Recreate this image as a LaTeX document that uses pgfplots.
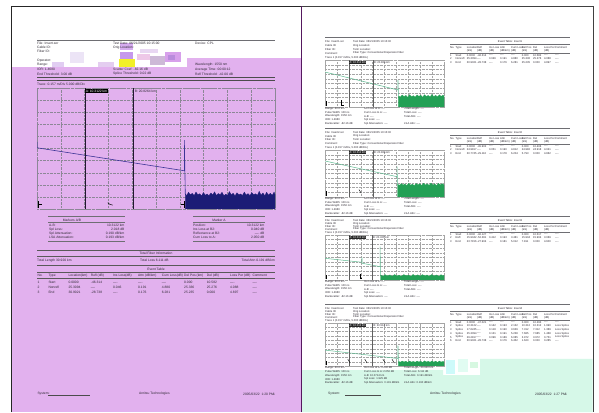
\documentclass[border=0pt]{standalone}
\usepackage{fontspec}
\setmainfont{Liberation Sans}
\usepackage{pgfplots}
\pgfplotsset{compat=1.18}

\definecolor{pagepurple}{RGB}{226,177,238}
\definecolor{pagemint}{RGB}{214,248,232}
\definecolor{plum}{RGB}{85,25,95}
\definecolor{navyfill}{RGB}{28,28,118}
\definecolor{navytrace}{RGB}{60,52,150}
\definecolor{markdark}{RGB}{35,20,50}
\definecolor{greentrace}{RGB}{95,185,145}
\definecolor{greenfill}{RGB}{35,160,85}
\definecolor{markgray}{RGB}{95,95,95}
\definecolor{txt}{RGB}{45,40,50}
\definecolor{rule}{RGB}{110,110,115}
\definecolor{gridl}{RGB}{140,135,150}
\definecolor{gridr}{RGB}{165,165,165}
\definecolor{gA}{RGB}{236,228,246}
\definecolor{gB}{RGB}{225,205,242}
\definecolor{gC}{RGB}{228,205,240}
\definecolor{gD}{RGB}{214,172,240}
\definecolor{gE}{RGB}{198,152,236}
\definecolor{gF}{RGB}{242,240,40}
\definecolor{gG}{RGB}{238,200,232}
\definecolor{gH}{RGB}{205,185,215}
\definecolor{gI}{RGB}{215,160,235}
\definecolor{gJ}{RGB}{185,140,220}
\definecolor{gK}{RGB}{232,215,242}
\definecolor{mA}{RGB}{205,250,250}
\definecolor{mB}{RGB}{225,252,242}
\definecolor{mC}{RGB}{215,248,225}

\newcommand{\lf}{\fontsize{3.3}{3.7}\selectfont}
\newcommand{\rf}{\fontsize{2.7}{3}\selectfont}

\tikzset{
  tl/.style={font=\lf, inner sep=0pt, anchor=west, text=txt},
  tr/.style={font=\rf, inner sep=0pt, anchor=west, text=txt},
}

\pgfplotsset{
  otdr/.style={scale only axis, anchor=south west, no markers,
    xmin=0, xmax=51.2, ymin=0, ymax=50,
    xtick={0,5.12,10.24,15.36,20.48,25.6,30.72,35.84,40.96,46.08,51.2},
    ytick={0,5,...,50},
    xticklabels={}, yticklabels={}, major tick length=0pt,
    grid=major, grid style={densely dotted, #1, line width=0.3pt},
    axis line style={densely dotted, #1, line width=0.3pt}},
  otdr/.default=gridr,
}

% event table rows, left page
\newcommand{\lrow}[9]{%
  \node[tl] at (37.3,#1) {#2};
  \node[tl] at (48.3,#1) {#3};
  \node[tl] at (68.3,#1) {#4};
  \node[tl] at (90.7,#1) {#5};
  \node[tl] at (113,#1) {#6};
  \node[tl] at (138,#1) {#7};
  \node[tl] at (161.7,#1) {#8};
  \node[tl] at (184,#1) {#9};}
\newcommand{\lrowb}[4]{%
  \node[tl] at (206.7,#1) {#2};
  \node[tl] at (230,#1) {#3};
  \node[tl] at (252.3,#1) {#4};}

% event table rows, right page
\newcommand{\rrow}[9]{%
  \node[tr] at (450,#1) {#2};
  \node[tr] at (455.5,#1) {#3};
  \node[tr] at (466.7,#1) {#4};
  \node[tr] at (477,#1) {#5};
  \node[tr] at (489,#1) {#6};
  \node[tr] at (500,#1) {#7};
  \node[tr] at (511,#1) {#8};
  \node[tr] at (521.7,#1) {#9};}
\newcommand{\rrowb}[4]{%
  \node[tr] at (533,#1) {#2};
  \node[tr] at (544,#1) {#3};
  \node[tr] at (555,#1) {#4};}

% header of one trace block on the right page
\newcommand{\rblock}[4]{%
  \pgfmathsetmacro\dd{(#2-#1-7.5)/4}
  \pgfmathsetmacro\ya{412-#1-4.5}
  \pgfmathsetmacro\yb{412-#1-4.5-\dd}
  \pgfmathsetmacro\yc{412-#1-4.5-2*\dd}
  \pgfmathsetmacro\yd{412-#1-4.5-3*\dd}
  \draw[rule, line width=0.4pt] (325,{412-#1}) -- (570,{412-#1});
  \node[tr] at (325,\ya) {File: #4.sor};
  \node[tr] at (353,\ya) {Test Date: 06/21/2005 10:15:00};
  \node[tr] at (325,\yb) {Cable ID:};
  \node[tr] at (353,\yb) {Orig Location:};
  \node[tr] at (325,\yc) {Fiber ID:};
  \node[tr] at (353,\yc) {Term Location:};
  \node[tr] at (325,\yd) {Comment:};
  \node[tr] at (353,\yd) {Fiber Type: Conventional Dispersion Fiber};
  \node[tr] at (325,{412-#2+2.4}) {Trace 1 (0.157 m/Div, 5.000 dB/Div)};
  \node[tr, anchor=center] at (510,{412-#1-5}) {Event Table: #4};
  \draw[rule, line width=0.3pt] (450,{412-#1-7.3}) -- (570,{412-#1-7.3});
  \pgfmathsetmacro\ye{412-#1-10.7}
  \pgfmathsetmacro\yf{412-#1-14}
  \rrow{\ye}{No.}{Type}{Location}{Refl}{Ins Loss}{Attn}{Cum Loss}{Del Pos}
  \rrowb{\ye}{Del}{Loss Per}{Comment}
  \rrow{\yf}{}{}{(km)}{(dB)}{(dB)}{(dB/km)}{(dB)}{(km)}
  \rrowb{\yf}{(dB)}{(dB)}{}
  \draw[rule, line width=0.3pt] (450,{412-#1-16.3}) -- (570,{412-#1-16.3});
}

% text below a plot on the right page, empty values
\newcommand{\rbelow}[1]{%
  \foreach \k/\a/\b/\c in {0/Range: 40.0 km/Ins Loss at A: ----/Total Length: ----,
      1/Pulse Width: 100 ns/Cum Loss to A: ----/Total Loss: ----,
      2/Wavelength: 1550 nm/A-B: ----/Total Attn: ----,
      3/IOR: 1.4680/Spl Loss: ----/ ,
      4/Backscatter: -82.16 dB/Spl Attenuation: ----/LSA Attn: ----}{
    \node[tr] at (325,{412-#1-1.8-3.7*\k}) {\a};
    \node[tr] at (364,{412-#1-1.8-3.7*\k}) {\b};
    \node[tr] at (404,{412-#1-1.8-3.7*\k}) {\c};
  }
}

\begin{document}
\begin{tikzpicture}
\begin{scope}[x=1pt,y=1pt]
\path[use as bounding box] (0,0) rectangle (599,412);
\fill[white] (0,0) rectangle (599,412);
% left page background
\fill[pagepurple] (11.5,0) rectangle (301,345);
\fill[pagepurple] (187,345) rectangle (301,353.5);
% header glitches
\fill[gA] (70,349) rectangle (84,360);
\fill[gB] (52,345) rectangle (64,350);
\fill[gC] (98,345) rectangle (114,350);
\fill[gD] (120,362) rectangle (133,369);
\fill[gE] (120,353) rectangle (133,360);
\fill[gF] (119,345) rectangle (135,353);
\fill[gG] (137,352) rectangle (150,358);
\fill[gH] (150,347) rectangle (165,356);
\fill[gI] (165,350) rectangle (181,360);
\fill[gJ] (168,352) rectangle (175,357);
\fill[gK] (140,359) rectangle (158,363);
% right page mint area and patches
\fill[pagemint] (302,0) -- (592.5,0) -- (592.5,53) -- (480,53) -- (480,37)
  -- (443,37) -- (443,42) -- (302,42) -- cycle;
\fill[mA] (446,38) rectangle (455,52);
\fill[mB] (458,40) rectangle (468,53);
\fill[mC] (470,44) rectangle (478,50);
% page borders
\draw[black!85, line width=0.8pt] (11.5,0) -- (11.5,406) -- (301,406);
\draw[black!75, line width=0.8pt] (301,406) -- (593,406) -- (593,0);
\draw[plum, line width=1pt] (301.4,0) -- (301.4,406);
\end{scope}

% ---------- left page trace ----------
\begin{axis}[otdr=gridl, at={(37pt,203pt)}, width=238pt, height=121pt]
\addplot[fill=navyfill, draw=navyfill, line width=0.3pt] coordinates {
 (31.9,6.2)(32.2,5.6)(32.6,6.9)(33.0,5.8)(33.4,6.5)(33.8,5.5)(34.2,7.0)(34.6,5.9)
 (35.0,6.3)(35.4,5.4)(35.8,6.8)(36.2,5.7)(36.6,6.2)(37.0,5.5)(37.4,6.6)(37.8,5.8)
 (38.2,7.1)(38.6,5.6)(39.0,6.4)(39.4,5.9)(39.8,6.9)(40.2,5.5)(40.6,6.1)(41.0,5.7)
 (41.4,7.2)(41.8,5.8)(42.2,6.5)(42.6,5.4)(43.0,6.7)(43.4,5.9)(43.8,6.2)(44.2,5.6)
 (44.6,7.0)(45.0,5.7)(45.4,6.4)(45.8,5.5)(46.2,6.8)(46.6,5.9)(47.0,6.3)(47.4,5.6)
 (47.8,7.3)(48.2,5.8)(48.6,6.6)(49.0,5.5)(49.4,6.9)(49.8,5.7)(50.2,6.5)(50.6,5.6)
 (51.0,7.0)(51.2,6.0)} \closedcycle;
\addplot[navytrace, line width=0.6pt] coordinates {
 (0,27.7)(0,25.3)(31.7,15.8)(31.7,28.5)(31.9,6.2)};
\addplot[markdark, line width=0.9pt] coordinates {(10.33,0)(10.33,50)};
\addplot[markdark, line width=0.9pt] coordinates {(20.65,0)(20.65,50)};
\node[fill=black, text=white, font=\lf, inner sep=0.6pt, anchor=north west]
  at (axis cs:10.33,49.6) {A: 10.3122 km};
\node[font=\lf, text=txt, inner sep=0.4pt, anchor=north west]
  at (axis cs:20.9,49.3) {B: 20.8264 km};
\addplot[black, line width=0.5pt] coordinates {(0.25,0.3)(0.25,3.2)};
\addplot[black, line width=0.5pt] coordinates {(0.25,1.8)(1.0,1.8)};
\addplot[black, line width=0.45pt] coordinates {(15.2,2.6)(15.7,1.9)(16.3,1.6)};
\addplot[black, line width=0.5pt] coordinates {(31.6,0.3)(31.6,3.2)};
\addplot[black, line width=0.5pt] coordinates {(30.9,1.8)(31.6,1.8)};
\end{axis}

% ---------- right page traces ----------
\begin{axis}[otdr, at={(325pt,305pt)}, width=119pt, height=47pt]
\addplot[fill=greenfill, draw=greenfill, line width=0.2pt] coordinates {
 (31.6,12.0)(32.4,10.6)(33.2,12.8)(34.0,11.1)(34.8,12.4)(35.6,10.3)(36.4,13.2)
 (37.2,10.9)(38.0,12.1)(38.8,10.5)(39.6,12.9)(40.4,11.3)(41.2,12.6)(42.0,10.4)
 (42.8,13.1)(43.6,11.2)(44.4,12.3)(45.2,10.8)(46.0,13.4)(46.8,11.0)(47.6,12.5)
 (48.4,10.7)(49.2,13.0)(50.0,11.3)(50.8,12.7)(51.2,11.6)} \closedcycle;
\addplot[greentrace, line width=0.5pt] coordinates {(0,37.2)(31.4,18.1)(31.4,28.7)(31.6,12.0)};
\addplot[markgray, line width=0.6pt] coordinates {(10.33,0)(10.33,50)};
\addplot[markgray, line width=0.6pt] coordinates {(20.65,0)(20.65,50)};
\node[fill=black!85, text=white, font=\rf, inner sep=0.5pt, anchor=north west]
  at (axis cs:10.33,49) {A: 10.312 km};
\node[font=\rf, text=txt, inner sep=0.3pt, anchor=north west]
  at (axis cs:20.9,48.6) {B: 20.826 km};
\addplot[black, line width=0.4pt] coordinates {(0.3,0.8)(0.3,6)};
\addplot[black, line width=0.4pt] coordinates {(7.0,7)(7.0,2)(8.0,2)};
\end{axis}

\begin{axis}[otdr, at={(325pt,215pt)}, width=119pt, height=47pt]
\addplot[fill=greenfill, draw=greenfill, line width=0.2pt] coordinates {
 (31.2,13.8)(32.0,12.4)(32.8,14.3)(33.6,12.7)(34.4,14.0)(35.2,12.2)(36.0,14.6)
 (36.8,12.6)(37.6,13.7)(38.4,12.1)(39.2,14.4)(40.0,12.9)(40.8,14.1)(41.6,12.3)
 (42.4,14.7)(43.2,12.8)(44.0,13.9)(44.8,12.4)(45.6,14.8)(46.4,12.6)(47.2,14.0)
 (48.0,12.2)(48.8,14.5)(49.6,12.9)(50.4,14.2)(51.2,13.1)} \closedcycle;
\addplot[greentrace, line width=0.5pt] coordinates {(0,38.3)(31.0,21.6)(31.0,32.2)(31.2,13.8)};
\addplot[markgray, line width=0.6pt] coordinates {(10.33,0)(10.33,50)};
\addplot[markgray, line width=0.6pt] coordinates {(20.65,0)(20.65,50)};
\node[fill=black!85, text=white, font=\rf, inner sep=0.5pt, anchor=north west]
  at (axis cs:10.33,49) {A: 10.312 km};
\node[font=\rf, text=txt, inner sep=0.3pt, anchor=north west]
  at (axis cs:20.9,48.6) {B: 20.826 km};
\addplot[black, line width=0.4pt] coordinates {(0.3,0.8)(0.3,6)};
\addplot[black, line width=0.4pt] coordinates {(14.6,8)(15.6,4)};
\end{axis}

\begin{axis}[otdr, at={(325pt,132pt)}, width=119pt, height=45pt]
\addplot[fill=greenfill, draw=greenfill, line width=0.2pt] coordinates {
 (23.9,5.6)(24.9,4.3)(25.9,5.9)(26.9,4.5)(27.9,5.7)(28.9,4.1)(29.9,6.1)(30.9,4.6)
 (31.9,5.4)(32.9,4.2)(33.9,6.0)(34.9,4.7)(35.9,5.5)(36.9,4.0)(37.9,6.2)(38.9,4.5)
 (39.9,5.8)(40.9,4.3)(41.9,6.0)(42.9,4.6)(43.9,5.6)(44.9,4.2)(45.9,6.1)(46.9,4.4)
 (47.9,5.7)(48.9,4.1)(49.9,5.9)(50.9,4.6)(51.2,5.3)} \closedcycle;
\addplot[greentrace, line width=0.5pt] coordinates {
 (0,24.1)(15.9,19.7)(15.9,25.2)(16.0,18.6)(23.7,14.8)(23.7,37.0)(23.9,5.6)};
\addplot[markgray, line width=0.6pt] coordinates {(10.33,0)(10.33,50)};
\addplot[markgray, line width=0.6pt] coordinates {(20.2,0)(20.2,50)};
\node[fill=black!85, text=white, font=\rf, inner sep=0.5pt, anchor=north west]
  at (axis cs:10.33,49) {A: 10.312 km};
\node[font=\rf, text=txt, inner sep=0.3pt, anchor=north west]
  at (axis cs:20.5,48.6) {B: 20.326 km};
\addplot[black, line width=0.4pt] coordinates {(0.3,0.8)(0.3,6)};
\addplot[black, line width=0.4pt] coordinates {(15.0,7)(15.0,2)(16.0,2)};
\end{axis}

\begin{axis}[otdr, at={(325pt,46pt)}, width=119pt, height=43pt]
\addplot[fill=greenfill, draw=greenfill, line width=0.2pt] coordinates {
 (31.6,5.5)(32.4,4.4)(33.2,5.8)(34.0,4.6)(34.8,5.6)(35.6,4.2)(36.4,5.9)(37.2,4.5)
 (38.0,5.4)(38.8,4.3)(39.6,5.8)(40.4,4.7)(41.2,5.5)(42.0,4.1)(42.8,6.0)(43.6,4.6)
 (44.4,5.6)(45.2,4.3)(46.0,5.9)(46.8,4.5)(47.6,5.7)(48.4,4.2)(49.2,5.8)(50.0,4.6)
 (50.8,5.5)(51.2,4.9)} \closedcycle;
\addplot[greentrace, line width=0.5pt] coordinates {(0,18.5)(31.4,8.7)(31.4,23.6)(31.6,5.5)};
\addplot[markgray, line width=0.6pt] coordinates {(10.33,0)(10.33,50)};
\addplot[markgray, line width=0.6pt] coordinates {(20.4,0)(20.4,50)};
\node[fill=black!85, text=white, font=\rf, inner sep=0.5pt, anchor=north west]
  at (axis cs:10.33,49) {A: 10.312 km};
\node[font=\rf, text=txt, inner sep=0.3pt, anchor=north west]
  at (axis cs:20.7,48.6) {B: 20.512 km};
\addplot[black, line width=0.4pt] coordinates {(0.3,0.8)(0.3,6)};
\addplot[black, line width=0.4pt] coordinates {(9.8,8)(10.8,3.5)};
\addplot[black, line width=0.4pt] coordinates {(17.1,8)(18.1,3.5)};
\addplot[black, line width=0.4pt] coordinates {(24.9,8)(25.9,3.5)};
\addplot[black, line width=0.4pt] coordinates {(28.8,8)(29.8,3.5)};
\end{axis}

% ---------- texts ----------
\begin{scope}[x=1pt,y=1pt]
% left header
\draw[rule, line width=0.5pt] (37,371.5) -- (275,371.5);
\node[tl] at (37,368.5) {File: Insert.sor};
\node[tl] at (113,368.5) {Test Date: 06/21/2005 10:15:00};
\node[tl] at (195,368.5) {Device: CPL};
\node[tl] at (37,364.5) {Cable ID:};
\node[tl] at (113,364.5) {Orig Location:};
\node[tl] at (37,360.5) {Fiber ID:};
\node[tl] at (37,351.5) {Operator:};
\node[tl] at (37,347) {Range:};
\node[tl] at (195,347) {Wavelength: 1550 nm};
\node[tl] at (37,342.5) {IOR: 1.4680};
\node[tl] at (113,342.5) {Scatter Coef: -82.16 dB};
\node[tl] at (195,342.5) {Average Time: 00:00:12};
\node[tl] at (37,338) {End Threshold: 3.00 dB};
\node[tl] at (113,338) {Splice Threshold: 0.02 dB};
\node[tl] at (195,338) {Refl Threshold: -42.00 dB};
\draw[black!70, line width=0.6pt] (37,335) -- (275,335);
\draw[black!70, line width=0.6pt] (37,331.5) -- (275,331.5);
\node[tl] at (37,327.5) {Trace: 0.157 m/Div 5.000 dB/Div};

% markers boxes
\draw[rule, line width=0.5pt] (48,196) -- (125,196);
\node[tl, anchor=center] at (72,192) {Markers A/B};
\draw[rule, line width=0.3pt] (48,189.5) -- (125,189.5);
\node[tl] at (49,186.5) {A-B:};
\node[tl] at (49,182.5) {Spl Loss:};
\node[tl] at (49,178.5) {Spl Attenuation:};
\node[tl] at (49,174.5) {LSA Attenuation:};
\node[tl, anchor=east] at (124.5,186.5) {10.3122 km};
\node[tl, anchor=east] at (124.5,182.5) {2.018 dB};
\node[tl, anchor=east] at (124.5,178.5) {0.190 dB/km};
\node[tl, anchor=east] at (124.5,174.5) {0.193 dB/km};
\draw[rule, line width=0.5pt] (48,170.5) -- (125,170.5);

\draw[rule, line width=0.5pt] (193,196) -- (265,196);
\node[tl, anchor=center] at (219,192) {Marker A};
\draw[rule, line width=0.3pt] (193,189.5) -- (265,189.5);
\node[tl] at (193,186.5) {Position:};
\node[tl] at (193,182.5) {Ins Loss at B2:};
\node[tl] at (193,178.5) {Reflectance at B2:};
\node[tl] at (193,174.5) {Cum Loss to A:};
\node[tl, anchor=east] at (264.5,186.5) {10.3122 km};
\node[tl, anchor=east] at (264.5,182.5) {0.040 dB};
\node[tl, anchor=east] at (264.5,178.5) {---- dB};
\node[tl, anchor=east] at (264.5,174.5) {2.050 dB};
\draw[rule, line width=0.5pt] (193,170.5) -- (265,170.5);

% total fiber information
\draw[black!65, line width=0.6pt] (37,161.3) -- (275,161.3);
\node[tl, anchor=center] at (156,158.3) {Total Fiber Information};
\draw[black!65, line width=0.4pt] (37,155.3) -- (275,155.3);
\node[tl] at (37,151.3) {Total Length 30.920 km};
\node[tl] at (140,151.3) {Total Loss 6.111 dB};
\node[tl, anchor=east] at (275,151.3) {Total Attn 0.191 dB/km};
\draw[black!65, line width=0.6pt] (37,147) -- (275,147);

% event table
\node[tl, anchor=center] at (156,142.5) {Event Table};
\draw[black!65, line width=0.4pt] (37,139.7) -- (275,139.7);
\lrow{136.3}{No.}{Type}{Location(km)}{Refl (dB)}{Ins Loss(dB)}{Attn (dB/km)}{Cum Loss(dB)}{Del Pos (km)}
\lrowb{136.3}{Del (dB)}{Loss Per (dB)}{Comment}
\draw[black!65, line width=0.4pt] (37,133.3) -- (275,133.3);
\lrow{129.5}{1}{Start}{0.0000}{-46.314}{----}{----}{----}{0.000}
\lrowb{129.5}{10.582}{----}{----}
\lrow{124.5}{2}{Nonrefl}{25.3094}{----}{0.046}{0.191}{4.880}{25.336}
\lrowb{124.5}{25.276}{4.088}{----}
\lrow{119.5}{3}{End}{30.9021}{-28.738}{----}{0.176}{6.281}{25.235}
\lrowb{119.5}{0.000}{4.897}{----}

% left footer
\node[tl] at (37.3,18) {System:};
\draw[black!70, line width=0.4pt] (48,17) -- (90,17);
\node[tl] at (139,18) {Anritsu Technologies};
\node[tl] at (243,18) {2005/03/22 ~1:20 PM};
\node[tl] at (273,18) {1};

% right page blocks
\rblock{37}{60}{107}{Insert1}
\rbelow{107}
\rrow{356.7}{1}{Start}{0.0000}{-46.314}{----}{----}{----}{0.000}
\rrowb{356.7}{10.582}{----}{----}
\rrow{353}{2}{Nonrefl}{25.3094}{----}{0.046}{0.191}{4.880}{25.336}
\rrowb{353}{25.276}{4.088}{----}
\rrow{349.3}{3}{End}{30.9021}{-28.738}{----}{0.176}{6.281}{25.235}
\rrowb{349.3}{0.000}{4.897}{----}

\rblock{128}{150}{197}{Insert2}
\rbelow{197}
\rrow{265.7}{1}{Start}{0.0000}{-45.902}{----}{----}{----}{0.000}
\rrowb{265.7}{10.406}{----}{----}
\rrow{262}{2}{Nonrefl}{24.9817}{----}{0.051}{0.190}{4.812}{24.982}
\rrowb{262}{24.918}{4.041}{----}
\rrow{258.3}{3}{End}{30.7745}{-29.116}{----}{0.178}{6.204}{5.793}
\rrowb{258.3}{0.000}{4.862}{----}

\rblock{216}{235}{280}{Insert3}
\rbelow{280}
\rrow{177.7}{1}{Start}{0.0000}{-46.127}{----}{----}{----}{0.000}
\rrowb{177.7}{10.517}{----}{----}
\rrow{174}{2}{Refl}{15.9042}{-52.381}{0.412}{0.193}{3.481}{15.904}
\rrowb{174}{15.904}{3.069}{----}
\rrow{170.3}{3}{End}{23.7156}{-27.904}{----}{0.181}{5.012}{7.811}
\rrowb{170.3}{0.000}{4.600}{----}

\rblock{304}{323}{366}{Insert4}
\rrow{89.7}{1}{Start}{0.0000}{-47.021}{----}{----}{----}{0.000}
\rrowb{89.7}{10.293}{----}{----}
\rrow{86}{2}{Splice}{10.3122}{----}{0.142}{0.193}{2.132}{10.312}
\rrowb{86}{10.312}{1.990}{Loss Splice}
\rrow{82.3}{3}{Splice}{17.6245}{----}{0.118}{0.190}{3.639}{7.312}
\rrowb{82.3}{7.312}{1.389}{Loss Splice}
\rrow{78.6}{4}{Splice}{25.3094}{----}{0.131}{0.191}{5.238}{7.685}
\rrowb{78.6}{7.685}{1.468}{Loss Splice}
\rrow{74.9}{5}{Splice}{29.2817}{----}{0.096}{0.189}{6.085}{3.972}
\rrowb{74.9}{3.972}{0.751}{Loss Splice}
\rrow{71.2}{6}{End}{30.9021}{-28.738}{----}{0.176}{6.452}{1.620}
\rrowb{71.2}{0.000}{0.285}{----}

% text below block 4
\node[tr] at (325,{412-368}) {Range: 40.0 km};
\node[tr] at (325,{412-371.7}) {Pulse Width: 100 ns};
\node[tr] at (325,{412-375.4}) {Wavelength: 1550 nm};
\node[tr] at (325,{412-379.1}) {IOR: 1.4680};
\node[tr] at (325,{412-382.8}) {Backscatter: -82.16 dB};
\node[tr] at (364,{412-368}) {Ins Loss at A: 0.040 dB};
\node[tr] at (364,{412-371.7}) {Cum Loss to A: 2.050 dB};
\node[tr] at (364,{412-375.4}) {A-B: 10.0714 km};
\node[tr] at (364,{412-379.1}) {Spl Loss: 1.925 dB};
\node[tr] at (364,{412-382.8}) {Spl Attenuation: 0.191 dB/km};
\node[tr] at (404,{412-368}) {Total Length: 30.920 km};
\node[tr] at (404,{412-371.7}) {Total Loss: 6.111 dB};
\node[tr] at (404,{412-375.4}) {Total Attn: 0.191 dB/km};
\node[tr] at (404,{412-382.8}) {LSA Attn: 0.190 dB/km};
% right footer
\node[tr, font=\lf] at (328,18) {System:};
\draw[black!70, line width=0.4pt] (345,17) -- (381,17);
\node[tr, font=\lf] at (430,18) {Anritsu Technologies};
\node[tr, font=\lf] at (535,18) {2005/03/22 ~1:27 PM};
\node[tr, font=\lf] at (565,18) {1};
\end{scope}
\end{tikzpicture}
\end{document}
